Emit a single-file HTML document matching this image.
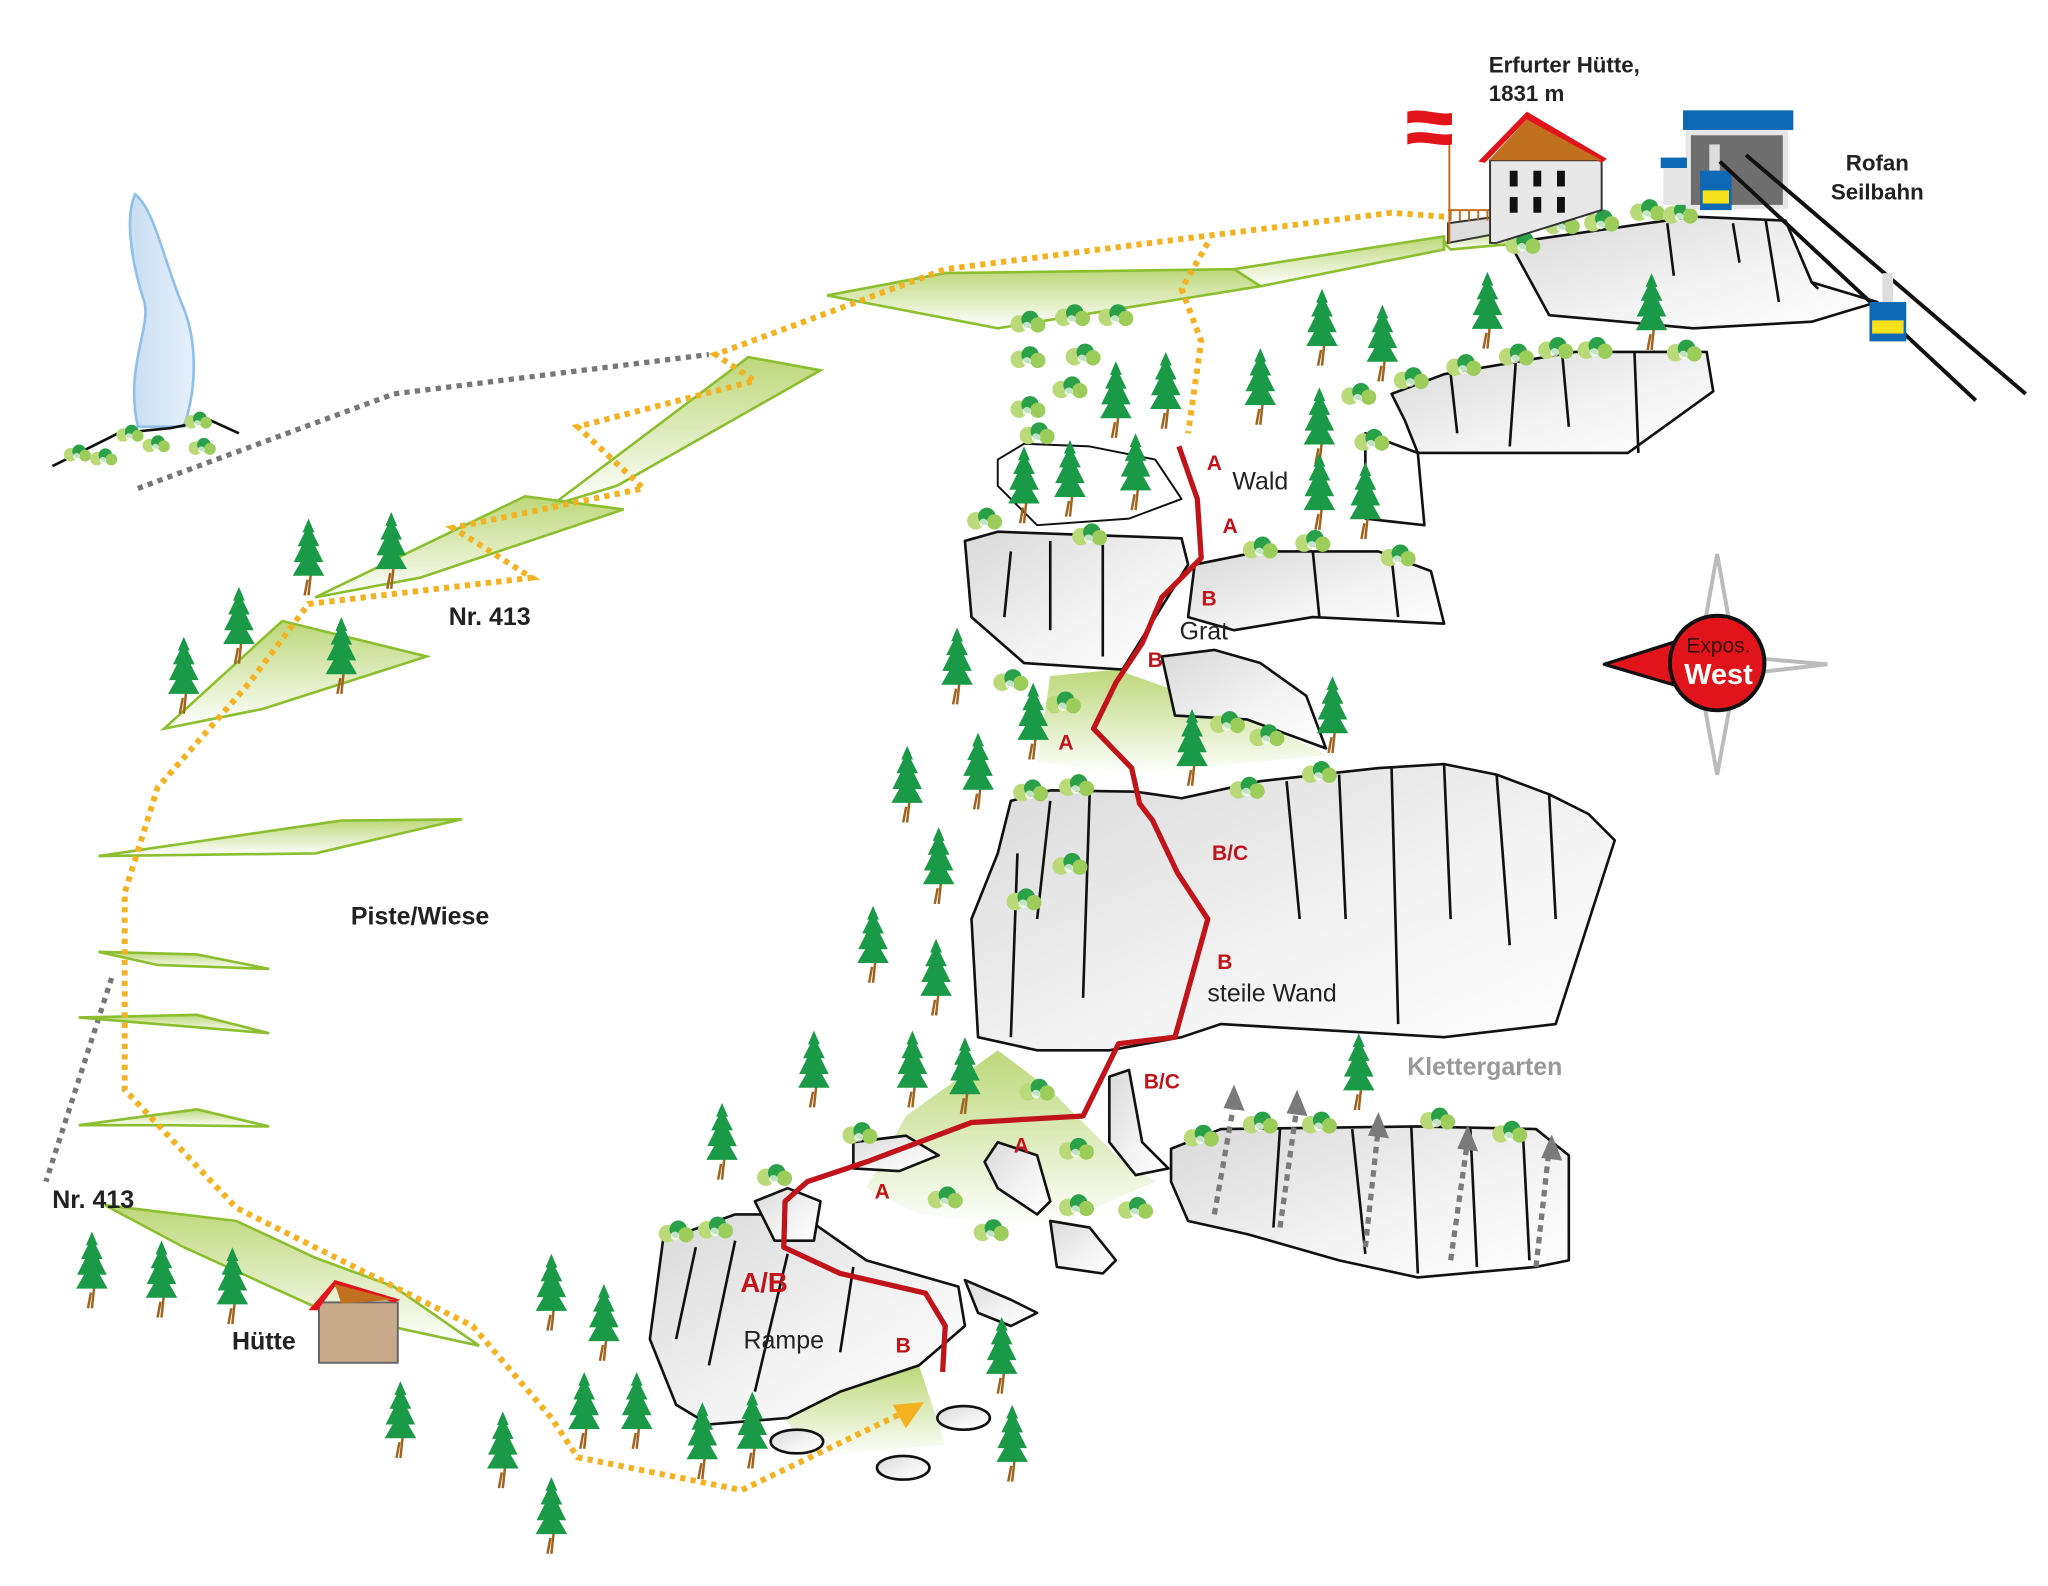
<!DOCTYPE html>
<html><head><meta charset="utf-8"><style>
html,body{margin:0;padding:0;background:#fff}
svg{display:block}
text{font-family:"Liberation Sans",Arial,sans-serif}
</style></head><body>
<svg width="2048" height="1586" viewBox="0 0 1560 1208" xmlns="http://www.w3.org/2000/svg">
<defs>
<linearGradient id="rk" x1="0" y1="0" x2="1" y2="1"><stop offset="0" stop-color="#d9d9d9"/><stop offset="0.6" stop-color="#f4f4f4"/><stop offset="1" stop-color="#fff"/></linearGradient>
<linearGradient id="gr" x1="0" y1="0" x2="0" y2="1"><stop offset="0" stop-color="#b5d36a" stop-opacity=".9"/><stop offset="1" stop-color="#b5d36a" stop-opacity="0"/></linearGradient>
<linearGradient id="lk" x1="0" y1="0" x2="1" y2="0"><stop offset="0" stop-color="#c9def3"/><stop offset="1" stop-color="#e6f0fa"/></linearGradient>
<symbol id="t" viewBox="0 0 40 80" overflow="visible">
<path d="M20 78 L23 50 M19 62 L16 78" stroke="#a0621d" stroke-width="2.5" fill="none"/>
<path d="M20 0 L26 14 L24 14 L31 28 L27 28 L35 44 L28 44 L36 58 L4 58 L12 44 L5 44 L13 28 L9 28 L16 14 L14 14 Z" fill="#1a9a46"/>
</symbol>
<symbol id="b" viewBox="0 0 34 24" overflow="visible">
<circle cx="9" cy="14" r="8" fill="#bada7a"/><circle cx="19" cy="10" r="8" fill="#2aa048"/><circle cx="26" cy="15" r="7" fill="#9ccc5a"/><circle cx="16" cy="16" r="4" fill="#fff" opacity=".7"/>
</symbol>
</defs>

<path d="M103 148 C95 165 100 200 110 230 C115 250 95 280 105 325 L140 325 C152 290 148 255 140 235 C125 200 118 160 103 148 Z" fill="url(#lk)" stroke="#8fc0ea" stroke-width="2"/>
<path d="M40 355 L90 330 L130 326 L160 320 L182 330" stroke="#111" stroke-width="2" fill="none"/>

<path d="M105 372 L300 300 L540 270" stroke="#777" stroke-width="4" stroke-dasharray="4 4" fill="none"/>
<path d="M85 745 L35 900" stroke="#777" stroke-width="4" stroke-dasharray="4 4" fill="none"/>

<g fill="url(#gr)" stroke="#8cbf2f" stroke-width="2">
<path d="M940 205 L1100 180 L1100 190 L960 218 Z"/>
<path d="M630 225 L720 208 L940 205 L960 218 L760 250 Z"/>
<path d="M420 385 L570 272 L625 282 L470 370 Z"/>
<path d="M240 455 L400 378 L475 388 L320 440 Z"/>
<path d="M125 555 L215 473 L325 500 L200 540 Z"/>
<path d="M75 652 L260 625 L352 624 L240 650 Z"/>
<path d="M75 725 L150 727 L205 738 L120 735 Z"/>
<path d="M60 775 L150 773 L205 787 L120 780 Z"/>
<path d="M60 857 L150 845 L205 858 L130 857 Z"/>
<path d="M80 918 L180 930 L240 958 L300 980 L365 1025 L250 1000 L140 950 Z"/>
<path d="M1100 185 L1150 175 L1160 185 L1105 190 Z"/>
</g>
<path d="M690 850 L760 800 L800 830 L850 880 L880 900 L800 935 L700 925 L660 905 Z" fill="url(#gr)"/>
<path d="M800 515 L850 510 L950 545 L1010 575 L860 590 L790 580 Z" fill="url(#gr)"/>
<path d="M590 1070 L700 1040 L720 1100 L620 1110 Z" fill="url(#gr)"/>

<g fill="url(#rk)" stroke="#111" stroke-width="2" stroke-linejoin="round">
<path d="M1150 185 L1290 165 L1360 168 L1380 215 L1430 230 L1380 245 L1290 250 L1180 240 Z"/>
<path d="M1060 300 L1100 285 L1200 268 L1300 268 L1305 298 L1240 345 L1080 345 L1070 320 Z"/>
<path d="M760 350 L780 338 L830 340 L880 350 L900 380 L860 395 L790 400 L760 370 Z" fill="#fff" stroke-width="1.5"/>
<path d="M1040 330 L1080 345 L1085 400 L1040 395 Z" fill="#fff"/>
<path d="M735 412 L760 405 L900 410 L905 430 L880 470 L855 510 L780 505 L740 470 Z"/>
<path d="M910 430 L960 420 L1050 420 L1090 435 L1100 475 L1000 470 L940 480 L905 470 Z"/>
<path d="M885 500 L925 495 L960 505 L995 530 L1010 570 L950 548 L895 545 Z"/>
<path d="M770 610 L800 602 L865 603 L900 608 L960 595 L1050 585 L1100 582 L1140 590 L1180 605 L1210 620 L1230 640 L1185 780 L1100 790 L930 780 L900 790 L845 800 L790 800 L745 790 L740 700 L760 650 Z"/>
<path d="M845 820 L860 815 L870 870 L890 890 L865 895 L845 870 Z"/>
<path d="M892 875 L930 860 L1080 858 L1170 860 L1195 880 L1195 960 L1170 965 L1080 973 L1020 960 L950 940 L905 930 L892 900 Z"/>
<path d="M505 945 L560 925 L610 925 L660 960 L730 980 L735 1010 L700 1040 L640 1060 L600 1080 L540 1085 L515 1070 L495 1020 Z"/>
<path d="M575 915 L600 905 L625 915 L620 945 L590 945 Z"/>
<path d="M650 870 L690 865 L715 880 L685 892 L650 890 Z"/>
<path d="M760 870 L790 880 L800 915 L790 925 L760 905 L750 885 Z"/>
<path d="M800 930 L830 935 L850 960 L840 970 L805 965 Z"/>
<path d="M735 975 L770 990 L790 1000 L770 1010 L745 1000 Z"/>
<ellipse cx="607" cy="1098" rx="20" ry="9"/>
<ellipse cx="688" cy="1118" rx="20" ry="9"/>
<ellipse cx="734" cy="1080" rx="20" ry="9"/>
</g>
<g stroke="#111" stroke-width="2" fill="none">
<path d="M1155 270 L1150 340 M1190 270 L1195 325 M1245 268 L1248 345 M1105 285 L1110 330"/>
<path d="M1270 170 L1275 210 M1320 170 L1325 200 M1345 168 L1355 230 M1380 215 L1385 220"/>
<path d="M800 412 L800 480 M840 415 L840 500 M770 420 L765 470"/>
<path d="M1000 420 L1005 470 M1060 425 L1065 470"/>
<path d="M800 610 L790 700 M830 605 L825 760 M980 595 L990 700 M1020 590 L1025 700 M1060 585 L1065 780 M1100 583 L1105 700 M1140 590 L1150 720 M1180 605 L1185 700 M775 650 L770 790"/>
<path d="M975 860 L970 935 M1030 860 L1040 955 M1075 858 L1080 970 M1120 860 L1125 965 M1160 862 L1165 960"/>
<path d="M530 950 L515 1020 M560 945 L540 1040 M600 955 L575 1060 M650 965 L640 1030"/>
</g>

<path d="M1100 165 L1060 162 L900 182 L720 205 L545 270 L575 290 L440 325 L490 372 L345 402 L405 440 L235 460 L190 520 L120 600 L95 680 L95 830 L180 920 L300 980 L360 1010 L420 1080 L440 1110 L565 1135 L690 1075" stroke="#f4b223" stroke-width="4.5" stroke-dasharray="4 4" fill="none"/>
<path d="M920 185 L900 220 L915 260 L905 330" stroke="#f4b223" stroke-width="4.5" stroke-dasharray="4 4" fill="none"/>
<path d="M680 1070 L704 1068 L690 1088 Z" fill="#f4b223"/>

<g stroke="#7a7a7a" stroke-width="4" stroke-dasharray="5 4" fill="none">
<path d="M925 925 L940 840 M975 935 L988 842 M1040 950 L1050 858 M1105 960 L1118 868 M1170 965 L1180 875"/>
</g>
<g fill="#7a7a7a">
<path d="M940 826 L948 846 L932 844 Z"/><path d="M988 830 L996 850 L980 848 Z"/><path d="M1050 847 L1058 867 L1042 865 Z"/><path d="M1118 857 L1126 877 L1110 875 Z"/><path d="M1182 864 L1190 884 L1174 882 Z"/>
</g>

<path d="M898 340 L912 380 L915 425 L885 455 L870 490 L850 520 L833 555 L862 585 L868 612 L878 625 L897 665 L920 700 L895 790 L852 795 L825 850 L740 855 L660 885 L615 900 L598 915 L597 950 L640 970 L705 985 L720 1010 L718 1045" stroke="#c0131a" stroke-width="4" fill="none" stroke-linejoin="round"/>

<g>
<use href="#t" x="220" y="395" width="30" height="60"/><use href="#t" x="283" y="390" width="30" height="60"/>
<use href="#t" x="167" y="447" width="30" height="60"/><use href="#t" x="125" y="485" width="30" height="60"/>
<use href="#t" x="245" y="470" width="30" height="60"/>
<use href="#t" x="55" y="938" width="30" height="60"/><use href="#t" x="108" y="945" width="30" height="60"/><use href="#t" x="162" y="950" width="30" height="60"/>
<use href="#t" x="290" y="1052" width="30" height="60"/><use href="#t" x="368" y="1075" width="30" height="60"/><use href="#t" x="430" y="1045" width="30" height="60"/><use href="#t" x="470" y="1045" width="30" height="60"/><use href="#t" x="405" y="1125" width="30" height="60"/>
<use href="#t" x="405" y="955" width="30" height="60"/><use href="#t" x="445" y="978" width="30" height="60"/>
<use href="#t" x="520" y="1068" width="30" height="60"/><use href="#t" x="558" y="1060" width="30" height="60"/>
<use href="#t" x="535" y="840" width="30" height="60"/><use href="#t" x="605" y="785" width="30" height="60"/><use href="#t" x="680" y="785" width="30" height="60"/><use href="#t" x="720" y="790" width="30" height="60"/>
<use href="#t" x="650" y="690" width="30" height="60"/><use href="#t" x="698" y="715" width="30" height="60"/><use href="#t" x="700" y="630" width="30" height="60"/>
<use href="#t" x="676" y="568" width="30" height="60"/><use href="#t" x="730" y="558" width="30" height="60"/><use href="#t" x="772" y="520" width="30" height="60"/><use href="#t" x="714" y="478" width="30" height="60"/>
<use href="#t" x="748" y="1003" width="30" height="60"/><use href="#t" x="756" y="1070" width="30" height="60"/>
<use href="#t" x="765" y="340" width="30" height="60"/><use href="#t" x="800" y="335" width="30" height="60"/><use href="#t" x="850" y="330" width="30" height="60"/>
<use href="#t" x="835" y="275" width="30" height="60"/><use href="#t" x="873" y="268" width="30" height="60"/><use href="#t" x="945" y="265" width="30" height="60"/>
<use href="#t" x="992" y="220" width="30" height="60"/><use href="#t" x="1038" y="232" width="30" height="60"/><use href="#t" x="1118" y="207" width="30" height="60"/><use href="#t" x="1243" y="208" width="30" height="60"/>
<use href="#t" x="990" y="295" width="30" height="60"/><use href="#t" x="990" y="345" width="30" height="60"/><use href="#t" x="1025" y="352" width="30" height="60"/>
<use href="#t" x="893" y="540" width="30" height="60"/><use href="#t" x="1000" y="515" width="30" height="60"/>
<use href="#t" x="1020" y="787" width="30" height="60"/>
</g>
<g>
<use href="#b" x="48" y="337" width="22" height="16"/><use href="#b" x="68" y="340" width="22" height="16"/><use href="#b" x="88" y="322" width="22" height="16"/><use href="#b" x="108" y="330" width="22" height="16"/><use href="#b" x="140" y="312" width="22" height="16"/><use href="#b" x="143" y="332" width="22" height="16"/>
<use href="#b" x="768" y="235" width="30" height="20"/><use href="#b" x="802" y="230" width="30" height="20"/><use href="#b" x="835" y="230" width="30" height="20"/><use href="#b" x="768" y="262" width="30" height="20"/><use href="#b" x="810" y="260" width="30" height="20"/><use href="#b" x="800" y="285" width="30" height="20"/><use href="#b" x="768" y="300" width="30" height="20"/><use href="#b" x="775" y="320" width="30" height="20"/>
<use href="#b" x="735" y="385" width="30" height="20"/><use href="#b" x="815" y="397" width="30" height="20"/><use href="#b" x="945" y="407" width="30" height="20"/><use href="#b" x="985" y="402" width="30" height="20"/><use href="#b" x="1050" y="413" width="30" height="20"/><use href="#b" x="1030" y="325" width="30" height="20"/><use href="#b" x="1020" y="290" width="30" height="20"/>
<use href="#b" x="1060" y="278" width="30" height="20"/><use href="#b" x="1100" y="268" width="30" height="20"/><use href="#b" x="1140" y="260" width="30" height="20"/><use href="#b" x="1170" y="255" width="30" height="20"/><use href="#b" x="1200" y="255" width="30" height="20"/><use href="#b" x="1268" y="257" width="30" height="20"/>
<use href="#b" x="1145" y="175" width="30" height="20"/><use href="#b" x="1175" y="160" width="30" height="20"/><use href="#b" x="1205" y="158" width="30" height="20"/><use href="#b" x="1240" y="150" width="30" height="20"/><use href="#b" x="1265" y="152" width="30" height="20"/>
<use href="#b" x="755" y="508" width="30" height="20"/><use href="#b" x="795" y="525" width="30" height="20"/><use href="#b" x="920" y="540" width="30" height="20"/><use href="#b" x="950" y="550" width="30" height="20"/><use href="#b" x="990" y="578" width="30" height="20"/>
<use href="#b" x="770" y="592" width="30" height="20"/><use href="#b" x="805" y="588" width="30" height="20"/><use href="#b" x="935" y="590" width="30" height="20"/><use href="#b" x="800" y="648" width="30" height="20"/><use href="#b" x="765" y="675" width="30" height="20"/>
<use href="#b" x="775" y="820" width="30" height="20"/><use href="#b" x="805" y="865" width="30" height="20"/><use href="#b" x="805" y="908" width="30" height="20"/><use href="#b" x="850" y="910" width="30" height="20"/><use href="#b" x="705" y="902" width="30" height="20"/><use href="#b" x="740" y="927" width="30" height="20"/>
<use href="#b" x="640" y="853" width="30" height="20"/><use href="#b" x="575" y="885" width="30" height="20"/><use href="#b" x="500" y="928" width="30" height="20"/><use href="#b" x="530" y="925" width="30" height="20"/>
<use href="#b" x="900" y="855" width="30" height="20"/><use href="#b" x="945" y="845" width="30" height="20"/><use href="#b" x="990" y="845" width="30" height="20"/><use href="#b" x="1080" y="842" width="30" height="20"/><use href="#b" x="1135" y="852" width="30" height="20"/>
</g>

<rect x="243" y="992" width="60" height="46" fill="#c8a98a" stroke="#666" stroke-width="1.5"/>
<path d="M235 998 L255 975 L305 990 L300 992 L255 980 L242 998 Z" fill="#e2141b"/>
<path d="M255 978 L300 990 L260 993 Z" fill="#c0701e"/>

<path d="M1103 170 L1103 185 L1140 178 L1140 165 Z" fill="#ddd" stroke="#333" stroke-width="1.5"/>
<path d="M1103 160 L1140 160 M1105 160 L1105 168 M1112 160 L1112 168 M1119 160 L1119 168 M1126 160 L1126 168 M1133 160 L1133 168" stroke="#c0701e" stroke-width="1.5"/>
<line x1="1104" y1="95" x2="1104" y2="185" stroke="#c0701e" stroke-width="1.5"/>
<path d="M1072 85 C1085 82 1095 88 1106 86 L1106 110 C1095 112 1085 106 1072 110 Z" fill="#e2141b"/>
<path d="M1072 94 C1085 91 1095 97 1106 95 L1106 102 C1095 104 1085 98 1072 102 Z" fill="#fff"/>
<path d="M1135 122 L1220 122 L1220 160 L1140 185 L1135 185 Z" fill="#e8e8e8" stroke="#333" stroke-width="1.5"/>
<path d="M1126 123 L1163 85 L1224 121 L1220 124 L1163 91 L1131 124 Z" fill="#e2141b"/>
<path d="M1163 91 L1220 122 L1134 122 Z" fill="#c0701e"/>
<g fill="#111"><rect x="1150" y="130" width="6" height="12"/><rect x="1168" y="130" width="6" height="12"/><rect x="1186" y="130" width="6" height="12"/><rect x="1150" y="150" width="6" height="12"/><rect x="1168" y="150" width="6" height="12"/><rect x="1186" y="150" width="6" height="12"/></g>

<rect x="1282" y="84" width="84" height="15" fill="#0d69b5"/>
<rect x="1284" y="99" width="78" height="60" fill="#e6e6e6"/>
<rect x="1288" y="103" width="70" height="53" fill="#6e6e6e"/>
<rect x="1265" y="120" width="20" height="8" fill="#0d69b5"/><rect x="1267" y="128" width="18" height="28" fill="#e6e6e6"/>
<rect x="1302" y="110" width="8" height="20" fill="#ddd"/>
<rect x="1295" y="130" width="24" height="30" fill="#0d69b5"/><rect x="1297" y="145" width="20" height="10" fill="#f6e11a"/>
<g stroke="#111" stroke-width="3"><line x1="1310" y1="123" x2="1505" y2="305"/><line x1="1330" y1="118" x2="1543" y2="300"/></g>
<rect x="1434" y="208" width="8" height="24" fill="#ddd"/>
<rect x="1424" y="230" width="28" height="30" fill="#0d69b5"/><rect x="1426" y="244" width="24" height="10" fill="#f6e11a"/>

<path d="M1308 422 L1322 500 L1392 506 L1322 514 L1308 590 L1294 514 L1230 506 L1294 500 Z" fill="#fff" stroke="#bbb" stroke-width="3"/>
<path d="M1222 506 L1285 486 L1290 526 Z" fill="#e2141b" stroke="#111" stroke-width="2.5" stroke-linejoin="round"/>
<circle cx="1308" cy="505" r="36" fill="#e2141b" stroke="#111" stroke-width="3"/>
<text x="1309" y="497" font-size="16" text-anchor="middle" fill="#3a0a0a">Expos.</text>
<text x="1309" y="521" font-size="22" font-weight="bold" text-anchor="middle" fill="#fff">West</text>

<g font-weight="bold" fill="#222">
<text x="1134" y="55" font-size="17">Erfurter Hütte,</text>
<text x="1134" y="77" font-size="17">1831 m</text>
<text x="1430" y="130" font-size="17" text-anchor="middle">Rofan</text>
<text x="1430" y="152" font-size="17" text-anchor="middle">Seilbahn</text>
<text x="373" y="476" font-size="19" text-anchor="middle">Nr. 413</text>
<text x="71" y="920" font-size="19" text-anchor="middle">Nr. 413</text>
<text x="320" y="704" font-size="19" text-anchor="middle">Piste/Wiese</text>
<text x="201" y="1028" font-size="19" text-anchor="middle">Hütte</text>
</g>
<text x="1131" y="819" font-size="19" font-weight="bold" text-anchor="middle" fill="#999">Klettergarten</text>
<g fill="#222" font-size="19">
<text x="960" y="373" text-anchor="middle">Wald</text>
<text x="917" y="487" text-anchor="middle">Grat</text>
<text x="969" y="763" text-anchor="middle">steile Wand</text>
<text x="597" y="1027" text-anchor="middle">Rampe</text>
</g>
<g fill="#c0131a" font-weight="bold" font-size="16" text-anchor="middle">
<text x="925" y="358">A</text><text x="937" y="406">A</text><text x="921" y="461">B</text><text x="880" y="508">B</text>
<text x="812" y="571">A</text><text x="937" y="655">B/C</text><text x="933" y="738">B</text><text x="885" y="829">B/C</text>
<text x="778" y="878">A</text><text x="672" y="913">A</text><text x="688" y="1030">B</text>
<text x="582" y="984" font-size="21">A/B</text>
</g>
</svg>
</body></html>
